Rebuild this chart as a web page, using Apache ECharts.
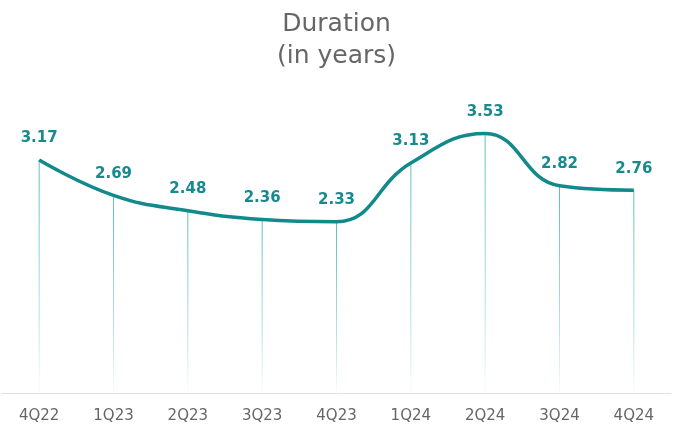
<!DOCTYPE html>
<html>
<head>
<meta charset="utf-8">
<script src="https://cdn.jsdelivr.net/npm/echarts@6/dist/echarts.min.js"></script>
<style>
html, body { margin: 0; padding: 0; background: #fff; }
#charts { width: 673px; height: 430px; }
</style>
</head>
<body>
<div id="charts"></div>
<script>
var quarters = ['4Q22', '1Q23', '2Q23', '3Q23', '4Q23', '1Q24', '2Q24', '3Q24', '4Q24'];
var duration = [3.17, 2.69, 2.48, 2.36, 2.33, 3.13, 3.53, 2.82, 2.76];

var myChart = echarts.init(document.getElementById('charts'));
var option = {
    backgroundColor: '#fff',
    animation: false,
    title: {
        text: 'Duration\n(in years)',
        left: 'center',
        top: 3,
        textStyle: {
            fontFamily: 'DejaVu Sans',
            fontWeight: 'normal',
            fontSize: 25,
            lineHeight: 32,
            color: '#666'
        }
    },
    grid: {
        left: 2,
        right: 2,
        top: 99,
        bottom: 37
    },
    xAxis: {
        type: 'category',
        boundaryGap: true,
        data: quarters,
        axisLine: { lineStyle: { color: '#dde3e3', width: 1 } },
        axisTick: { show: false },
        axisLabel: {
            color: '#666',
            fontFamily: 'DejaVu Sans',
            fontSize: 15,
            margin: 16
        }
    },
    yAxis: {
        type: 'value',
        min: 0,
        max: 4,
        show: false,
        splitLine: { show: false }
    },
    series: [
        {
            name: 'drop',
            type: 'bar',
            barWidth: 1,
            silent: true,
            data: duration,
            itemStyle: {
                color: new echarts.graphic.LinearGradient(0, 0, 0, 1, [
                    { offset: 0, color: 'rgba(60,180,172,0.85)' },
                    { offset: 0.7, color: 'rgba(60,180,172,0.35)' },
                    { offset: 1, color: 'rgba(60,180,172,0.03)' }
                ])
            },
            label: {
                show: true,
                position: 'top',
                distance: 14,
                color: '#178a90',
                fontFamily: 'DejaVu Sans',
                fontWeight: 'bold',
                fontSize: 15,
                formatter: function (p) { return p.value.toFixed(2); }
            }
        },
        {
            name: 'Duration',
            type: 'line',
            smooth: 0.45,
            symbol: 'none',
            data: duration,
            lineStyle: { color: '#12898a', width: 3.5 }
        }
    ]
};
myChart.setOption(option);
</script>
</body>
</html>
